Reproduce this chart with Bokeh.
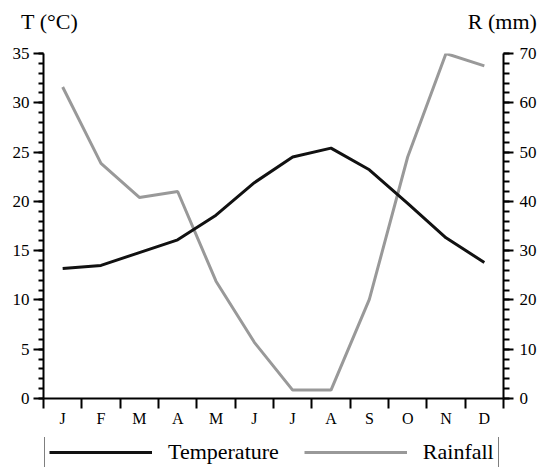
from bokeh.plotting import figure
from bokeh.layouts import column
from bokeh.models import (Range1d, LinearAxis, FixedTicker, SingleIntervalTicker,
                          Legend, LegendItem)
from bokeh.embed import file_html
from bokeh.resources import INLINE

months = ["J", "F", "M", "A", "M", "J", "J", "A", "S", "O", "N", "D"]
temperature = [13.2, 13.5, 14.8, 16.1, 18.6, 21.9, 24.5, 25.4, 23.2, 19.8, 16.3, 13.8]
rainfall = [63.2, 47.7, 40.8, 42.0, 23.8, 11.4, 1.7, 1.7, 20.1, 49.0, 70.0, 67.5]
left_title = "T (°C)"
right_title = "R (mm)"
series_names = ["Temperature", "Rainfall"]

FONT = "Liberation Serif"
TEMP_COLOR = "#111111"
RAIN_COLOR = "#999999"
x_pos = [i + 0.5 for i in range(len(months))]

p = figure(frame_width=460, frame_height=345, output_backend="svg",
           toolbar_location=None, x_range=Range1d(0, 12), y_range=Range1d(0, 35),
           min_border_left=43, min_border_right=39, min_border_top=53,
           min_border_bottom=39, x_axis_location=None, y_axis_location=None)
p.outline_line_color = None
p.xgrid.visible = False
p.ygrid.visible = False
p.background_fill_color = "white"
p.border_fill_color = "white"

p.extra_y_ranges = {"rain": Range1d(0, 70)}

def style_axis(ax):
    ax.axis_line_width = 2
    ax.axis_line_color = "black"
    ax.major_tick_line_width = 2
    ax.minor_tick_line_width = 2
    ax.major_tick_line_color = "black"
    ax.minor_tick_line_color = "black"
    ax.major_label_text_font = FONT
    ax.major_label_text_color = "black"
    ax.major_tick_in = 0
    ax.minor_tick_in = 0

# bottom axis
xt = FixedTicker(ticks=x_pos, minor_ticks=list(range(13)))
xa = LinearAxis(ticker=xt)
style_axis(xa)
xa.major_tick_out = 0
xa.minor_tick_out = 10
xa.major_label_overrides = {x: m for x, m in zip(x_pos, months)}
xa.major_label_text_font_size = "16px"
xa.major_label_standoff = 1
p.add_layout(xa, "below")

# left axis
ya = LinearAxis(ticker=SingleIntervalTicker(interval=5, num_minor_ticks=5))
style_axis(ya)
ya.major_tick_out = 10
ya.minor_tick_out = 5
ya.major_label_text_font_size = "17px"
ya.major_label_standoff = 4
p.add_layout(ya, "left")

# right axis
ra = LinearAxis(y_range_name="rain",
                ticker=SingleIntervalTicker(interval=10, num_minor_ticks=5))
style_axis(ra)
ra.major_tick_out = 10
ra.minor_tick_out = 6
ra.major_label_text_font_size = "17px"
ra.major_label_standoff = 6
p.add_layout(ra, "right")

# top axis used only to carry the two axis titles
title_pos = [0.16, 11.97]
ta = LinearAxis(ticker=FixedTicker(ticks=title_pos, minor_ticks=[]))
ta.axis_line_color = None
ta.major_tick_line_color = None
ta.minor_tick_line_color = None
ta.major_tick_out = 0
ta.minor_tick_out = 0
ta.major_label_overrides = {title_pos[0]: left_title, title_pos[1]: right_title}
ta.major_label_text_font = FONT
ta.major_label_text_font_size = "22px"
ta.major_label_text_color = "black"
ta.major_label_standoff = 20
p.add_layout(ta, "above")

p.line(x_pos, rainfall, y_range_name="rain", line_color=RAIN_COLOR, line_width=3)
p.line(x_pos, temperature, line_color=TEMP_COLOR, line_width=3)

# legend strip below the chart (its series lie outside its range, so only
# the legend samples show)
lg = figure(width=542, height=30, output_backend="svg", toolbar_location=None,
            x_range=Range1d(0, 1), y_range=Range1d(0, 1), min_border=0,
            x_axis_location=None, y_axis_location=None)
lg.outline_line_color = None
lg.xgrid.visible = False
lg.ygrid.visible = False
lg.border_fill_color = "white"
lt = lg.line(x_pos, temperature, line_color=TEMP_COLOR, line_width=3)
lr = lg.line(x_pos, rainfall, line_color=RAIN_COLOR, line_width=3)

legend = Legend(items=[LegendItem(label=series_names[0], renderers=[lt]),
                       LegendItem(label=series_names[1], renderers=[lr])],
                orientation="horizontal", location=(1, -3),
                glyph_width=103, glyph_height=22, label_height=22,
                label_standoff=16, spacing=25,
                padding=4, margin=0, label_text_font=FONT,
                label_text_font_size="22px", label_text_color="black",
                border_line_color="black", border_line_width=1.5,
                background_fill_color="white", background_fill_alpha=1.0)
lg.add_layout(legend, "center")

layout = column(p, lg, spacing=0)
open("out.html", "w").write(file_html(layout, INLINE))
